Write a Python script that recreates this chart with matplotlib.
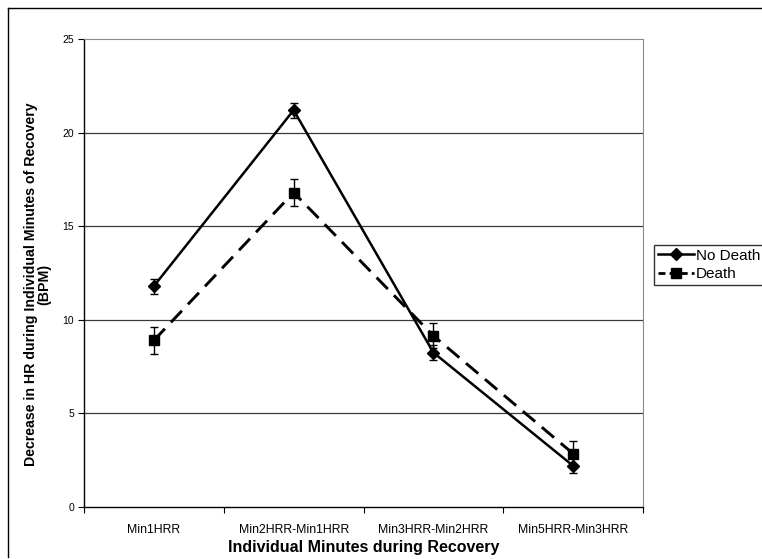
import matplotlib
matplotlib.use("Agg")
import matplotlib.pyplot as plt
from matplotlib.lines import Line2D

# Data
categories = ["Min1HRR", "Min2HRR-Min1HRR", "Min3HRR-Min2HRR", "Min5HRR-Min3HRR"]
no_death = [11.8, 21.2, 8.25, 2.2]
no_death_err = [0.4, 0.4, 0.4, 0.4]
death = [8.9, 16.8, 9.15, 2.85]
death_err = [0.72, 0.7, 0.68, 0.7]
yticks = [0, 5, 10, 15, 20, 25]

plt.rcParams["font.family"] = ["Liberation Sans", "DejaVu Sans"]

W, H = 762, 559
fig = plt.figure(figsize=(W / 100, H / 100), dpi=100)
ax = fig.add_axes([84 / W, 1 - 507 / H, (643 - 84) / W, (507 - 39) / H])

x = list(range(len(categories)))

ax.errorbar(x, no_death, yerr=no_death_err, color="black", lw=1.8,
            marker="D", markersize=6, ecolor="black", elinewidth=1,
            capsize=3, capthick=1, zorder=4)
ax.errorbar(x, death, yerr=death_err, color="black", lw=2.1,
            linestyle=(0, (5.5, 3)), marker="s", markersize=7,
            ecolor="black", elinewidth=1, capsize=3, capthick=1, zorder=4)

ax.set_xlim(-0.5, len(categories) - 0.5)
ax.set_ylim(0, 25)
ax.set_yticks(yticks)
ax.set_yticklabels([str(v) for v in yticks], fontsize=7.5)
ax.set_xticks(x)
ax.set_xticklabels(categories, fontsize=8.8)
ax.set_xticks([i - 0.5 for i in range(len(categories) + 1)], minor=True)
ax.tick_params(axis="x", which="major", length=0, pad=12)
ax.tick_params(axis="x", which="minor", length=4, width=0.8, direction="out")
ax.tick_params(axis="y", length=4, width=0.8, direction="out", pad=3)

for v in yticks[1:-1]:
    ax.axhline(v, color="#3a3a3a", lw=0.9, zorder=1)

ax.spines["left"].set_color("black")
ax.spines["bottom"].set_color("black")
ax.spines["left"].set_linewidth(1.0)
ax.spines["bottom"].set_linewidth(1.0)
for s in ("top", "right"):
    ax.spines[s].set_color("#8a8a8a")
    ax.spines[s].set_linewidth(0.8)

ax.set_xlabel("Individual Minutes during Recovery", fontsize=11.5,
              fontweight="bold", labelpad=3)
ax.set_ylabel("Decrease in HR during Individual Minutes of Recovery\n(BPM)",
              fontsize=10.2, fontweight="bold", linespacing=0.95)
ax.yaxis.set_label_coords(-0.058, 0.476)

handles = [
    Line2D([], [], color="black", lw=1.8, marker="D", markersize=6),
    Line2D([], [], color="black", lw=2.0, linestyle=(0, (2.5, 1.5)),
           marker="s", markersize=7),
]
leg = fig.legend(handles, ["No Death", "Death"], loc="upper left",
                 bbox_to_anchor=(654 / W, 1 - 245 / H), fontsize=11,
                 frameon=True, fancybox=False, handlelength=2.4,
                 handletextpad=0.1, borderpad=0.25, labelspacing=0.3,
                 borderaxespad=0)
leg.get_frame().set_edgecolor("black")
leg.get_frame().set_linewidth(1.0)

# Outer chart border
fig.add_artist(Line2D([8 / W, 8 / W], [1 - 8 / H, 1 - 557 / H],
                      transform=fig.transFigure, color="black", lw=1.0))
fig.add_artist(Line2D([8 / W, 1.0], [1 - 8 / H, 1 - 8 / H],
                      transform=fig.transFigure, color="black", lw=1.0))

fig.savefig("out.png", dpi=100)
